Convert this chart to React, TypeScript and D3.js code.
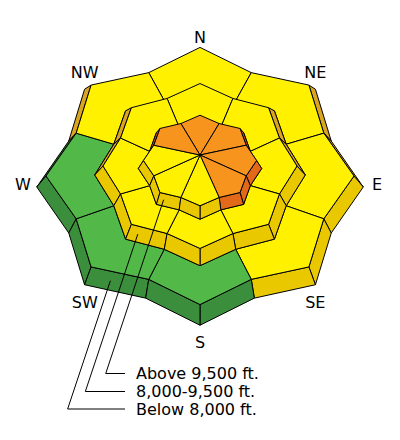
import React from "react";
import * as d3 from "d3";

// Aspect labels, clockwise from north
const directions = ["N", "NE", "E", "SE", "S", "SW", "W", "NW"];

// Elevation band names, listed top to bottom in the key
const bandNames = ["Above 9,500 ft.", "8,000-9,500 ft.", "Below 8,000 ft."];

// Danger rating per aspect (N, NE, E, SE, S, SW, W, NW)
const belowDanger = ["Moderate", "Moderate", "Moderate", "Moderate", "Low", "Low", "Low", "Moderate"];
const middleDanger = ["Moderate", "Moderate", "Moderate", "Moderate", "Moderate", "Moderate", "Moderate", "Moderate"];
const aboveDanger = ["Considerable", "Considerable", "Considerable", "Considerable", "Moderate", "Moderate", "Moderate", "Considerable"];

const dangerNames = ["Low", "Moderate", "Considerable"];
const topColors = ["#52B848", "#FFF100", "#F7941E"];
const wallColors = ["#3B8E3B", "#EAC800", "#E2681A"];
const shadeColors = ["#2F6E2F", "#DAA520", "#D2521C"];

const topColor = d3.scaleOrdinal<string, string>().domain(dangerNames).range(topColors);
const wallColor = d3.scaleOrdinal<string, string>().domain(dangerNames).range(wallColors);
const shadeColor = d3.scaleOrdinal<string, string>().domain(dangerNames).range(shadeColors);

const W = 400;
const H = 440;
const cx = 200;
const apexY = 155;

// Stepped-cone geometry, outer band first. R: aspect vertex radius, r: sector
// boundary radius, ky: vertical foreshortening, lift: drop of the rim below the
// apex, ax/ay/drop: how the foot of each sloped wall spreads out and down.
const rings = [
  { R: 154, r: 134, ky: 0.835, lift: 21, ax: 1.06, ay: 1.075, drop: 11, danger: belowDanger },
  { R: 97, r: 86, ky: 0.85, lift: 11, ax: 1.085, ay: 1.1, drop: 9, danger: middleDanger },
  { R: 56.6, r: 50, ky: 0.8, lift: 5.5, ax: 1.09, ay: 1.12, drop: 8, danger: aboveDanger },
];

type Pt = [number, number];

function planPoints(ring: { R: number; r: number }): Pt[] {
  return d3.range(16).map((k) => {
    const p = d3.pointRadial((k * Math.PI) / 8, k % 2 === 0 ? ring.R : ring.r);
    return [p[0], -p[1]] as Pt; // X east, Y north
  });
}

function project(ring: any, p: Pt, foot: boolean): Pt {
  const y0 = apexY + ring.lift + (foot ? ring.drop : 0);
  const yScale = d3
    .scaleLinear()
    .domain([0, 1])
    .range([y0, y0 - ring.ky * (foot ? ring.ay : 1)]);
  const xScale = d3.scaleLinear().domain([0, 1]).range([cx, cx + (foot ? ring.ax : 1)]);
  return [xScale(p[0]), yScale(p[1])];
}

const line = d3.line<Pt>().curve(d3.curveLinearClosed);

const geo = rings.map((ring) => {
  const plan = planPoints(ring);
  return {
    ring,
    plan,
    top: plan.map((p) => project(ring, p, false)),
    foot: plan.map((p) => project(ring, p, true)),
  };
});

const apex: Pt = [cx, apexY];

function lerp(a: Pt, b: Pt, t: number): Pt {
  return [a[0] + (b[0] - a[0]) * t, a[1] + (b[1] - a[1]) * t];
}

export default function App() {
  const layers: React.ReactNode[] = [];

  geo.forEach((g, j) => {
    // sloped walls that face the viewer, far ones first
    const walls = d3
      .range(16)
      .map((k) => {
        const k2 = (k + 1) % 16;
        const a = g.top[k];
        const b = g.top[k2];
        const fa = g.foot[k];
        const fb = g.foot[k2];
        const ex = b[0] - a[0];
        const ey = b[1] - a[1];
        const mx = (fa[0] + fb[0] - a[0] - b[0]) / 2;
        const my = (fa[1] + fb[1] - a[1] - b[1]) / 2;
        const cross = ex * my - ey * mx;
        const sector = Math.floor((k + 1) / 2) % 8;
        const planEx = g.plan[k2][0] - g.plan[k][0];
        const rating = g.ring.danger[sector];
        return {
          k,
          pts: [a, b, fb, fa] as Pt[],
          visible: cross < 0,
          depth: (a[1] + b[1] + fa[1] + fb[1]) / 4,
          fill: planEx > 0 ? shadeColor(rating) : wallColor(rating),
        };
      })
      .filter((w) => w.visible)
      .sort((p, q) => p.depth - q.depth);

    walls.forEach((w) => {
      layers.push(
        <path key={`w${j}-${w.k}`} d={line(w.pts) as string} fill={w.fill} stroke="#000" strokeWidth={1} strokeLinejoin="round" />
      );
    });

    // top faces of each aspect sector, running up to the next band's foot
    const inner = j + 1 < geo.length ? geo[j + 1].foot : null;
    directions.forEach((dir, i) => {
      const ks = [(2 * i + 15) % 16, 2 * i, 2 * i + 1];
      const outerPts = ks.map((k) => g.top[k]);
      const innerPts = inner ? ks.map((k) => inner[k]).reverse() : [apex];
      layers.push(
        <path
          key={`t${j}-${dir}`}
          d={line([...outerPts, ...innerPts]) as string}
          fill={topColor(g.ring.danger[i])}
          stroke="#000"
          strokeWidth={1}
          strokeLinejoin="round"
        />
      );
    });
  });

  // leader lines from the key to the SW wall of each band
  const keyY = [373.5, 391.5, 409];
  const leaderT = [0.25, 0.25, 0.38];
  const leaders = bandNames.map((name, n) => {
    const g = geo[geo.length - 1 - n];
    const top = lerp(g.top[10], g.top[9], leaderT[n]);
    const foot = lerp(g.foot[10], g.foot[9], leaderT[n]);
    const target = lerp(top, foot, 0.5);
    const y = keyY[n];
    const xl = target[0] - (y - target[1]) / 3;
    return { name, y, target, xl };
  });

  const labelPos = (i: number): Pt => {
    const a = (i * Math.PI) / 4;
    const diag = i % 2 === 1;
    const rx = diag ? 163 : 177;
    const ry = diag ? 163 : 152.5;
    const c = Math.cos(a);
    return [cx + Math.sin(a) * rx, 184 + 6 * c * c - c * ry];
  };

  return (
    <svg
      width={W}
      height={H}
      viewBox={`0 0 ${W} ${H}`}
      style={{ position: "absolute", left: 0, top: 0, background: "#fff" }}
      fontFamily="DejaVu Sans, Verdana, sans-serif"
    >
      <rect width={W} height={H} fill="#fff" />
      <g>{layers}</g>
      <g fill="none" stroke="#000" strokeWidth={1}>
        {leaders.map((l) => (
          <polyline
            key={l.name}
            points={`${l.target[0]},${l.target[1]} ${l.xl},${l.y} 125,${l.y}`}
          />
        ))}
      </g>
      <g fontSize={16} fill="#000">
        {leaders.map((l) => (
          <text key={l.name} x={136} y={l.y + 5.8}>
            {l.name}
          </text>
        ))}
        {directions.map((d, i) => {
          const [x, y] = labelPos(i);
          return (
            <text key={d} x={x} y={y + 5.8} textAnchor="middle">
              {d}
            </text>
          );
        })}
      </g>
    </svg>
  );
}
